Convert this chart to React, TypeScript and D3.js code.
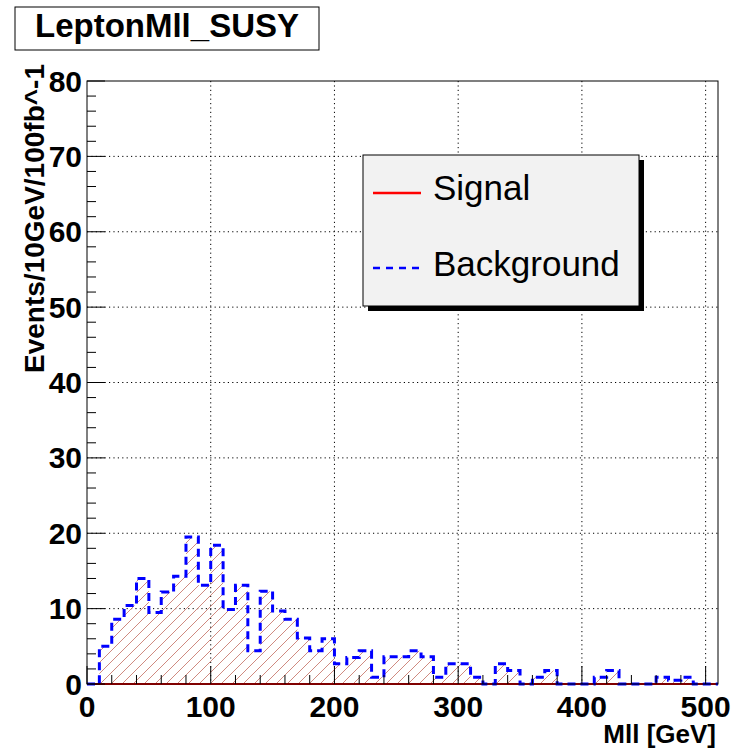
import React from "react";
import * as d3 from "d3";

// Histogram: 10 GeV bins from 0 to 510 GeV
const binWidth = 10;
const binStart = 0;
const backgroundCounts = [
  0, 5.0, 8.6, 10.4, 14.0, 9.5, 12.2, 14.3, 19.5, 13.1,
  18.4, 9.9, 13.1, 4.4, 12.3, 9.7, 8.6, 6.1, 4.4, 6.0,
  2.7, 3.5, 4.4, 0.9, 3.6, 3.6, 4.4, 3.6, 0.9, 2.7,
  2.7, 0.9, 0, 2.7, 1.8, 0, 0.9, 1.8, 0, 0,
  0, 0.9, 1.8, 0, 0, 0, 0.9, 0.5, 0.9, 0,
  0,
];
const signalCounts = backgroundCounts.map(() => 0);

const xDomain = [0, 510];
const yDomain = [0, 80];
const xMajorTicks = [0, 100, 200, 300, 400, 500];
const yMajorTicks = [0, 10, 20, 30, 40, 50, 60, 70, 80];
const xMinorStep = 20;
const yMinorStep = 2;

const titleText = "LeptonMll_SUSY";
const xTitle = "Mll [GeV]";
const yTitle = "Events/10GeV/100fb^-1";
const legendLabels = ["Signal", "Background"];

const W = 737;
const H = 749;
const FONT = "'Liberation Sans', Arial, Helvetica, sans-serif";

const frame = { left: 87, right: 718, top: 81, bottom: 684 };

export default function App() {
  const x = d3.scaleLinear().domain(xDomain).range([frame.left, frame.right]);
  const y = d3.scaleLinear().domain(yDomain).range([frame.bottom, frame.top]);

  type Pt = { e: number; v: number };
  const toSteps = (counts: number[]): Pt[] => {
    const pts = counts.map((v, i) => ({ e: binStart + i * binWidth, v }));
    pts.push({ e: binStart + counts.length * binWidth, v: counts[counts.length - 1] });
    return pts;
  };
  const bgPts = toSteps(backgroundCounts);
  const sigPts = toSteps(signalCounts);

  const stepLine = d3
    .line<Pt>()
    .x((d) => x(d.e))
    .y((d) => y(d.v))
    .curve(d3.curveStepAfter);
  const stepArea = d3
    .area<Pt>()
    .x((d) => x(d.e))
    .y0(y(0))
    .y1((d) => y(d.v))
    .curve(d3.curveStepAfter);

  // Outline closed down to the baseline at both ends
  const bgOutline =
    `M${x(bgPts[0].e)},${y(0)}` +
    (stepLine(bgPts) || "").replace(/^M/, "L") +
    `L${x(bgPts[bgPts.length - 1].e)},${y(0)}`;

  const xMinor = d3.range(xDomain[0], xDomain[1] + 0.001, xMinorStep);
  const yMinor = d3.range(yDomain[0], yDomain[1] + 0.001, yMinorStep);

  const majorLen = 18;
  const minorLen = 9;

  // 45-degree hatch lines covering the plot, clipped to the filled area
  const hatchSpacing = 11;
  const hatchLines = d3.range(frame.left - (frame.bottom - frame.top), frame.right + 1, hatchSpacing);

  const legend = { x: 363, y: 155, w: 276, h: 151 };

  return (
    <svg width={W} height={H} style={{ display: "block", position: "absolute", left: 0, top: 0 }}>
      <defs>
        <clipPath id="bgAreaClip">
          <path d={stepArea(bgPts) || ""} />
        </clipPath>
        <clipPath id="plotClip">
          <rect x={frame.left} y={frame.top - 2} width={frame.right - frame.left} height={frame.bottom - frame.top + 4} />
        </clipPath>
      </defs>
      <rect x={0} y={0} width={W} height={H} fill="#ffffff" />

      {/* grid */}
      <g stroke="#000" strokeWidth={1} strokeDasharray="1.2 3.2">
        {xMajorTicks.filter((t) => t > xDomain[0]).map((t) => (
          <line key={"gx" + t} x1={x(t)} x2={x(t)} y1={frame.top} y2={frame.bottom} />
        ))}
        {yMajorTicks.filter((t) => t > yDomain[0] && t < yDomain[1]).map((t) => (
          <line key={"gy" + t} x1={frame.left} x2={frame.right} y1={y(t)} y2={y(t)} />
        ))}
      </g>

      <g clipPath="url(#plotClip)">
        {/* hatched fill under background */}
        <g clipPath="url(#bgAreaClip)" stroke="#c97d72" strokeWidth={0.9}>
          {hatchLines.map((h, i) => (
            <line key={"h" + i} x1={h} y1={frame.bottom} x2={h + (frame.bottom - frame.top)} y2={frame.top} />
          ))}
        </g>
        {/* signal histogram */}
        <path d={stepLine(sigPts) || ""} fill="none" stroke="#ff0000" strokeWidth={2.2} />
        {/* background histogram */}
        <path d={bgOutline} fill="none" stroke="#0000ff" strokeWidth={3} strokeDasharray="8 5" />
      </g>

      {/* ticks */}
      <g stroke="#000" strokeWidth={1}>
        {xMinor.map((t) => {
          const major = xMajorTicks.includes(t);
          return (
            <line key={"tx" + t} x1={x(t)} x2={x(t)} y1={frame.bottom} y2={frame.bottom - (major ? majorLen : minorLen)} />
          );
        })}
        {yMinor.map((t) => {
          const major = yMajorTicks.includes(t);
          return (
            <line key={"ty" + t} x1={frame.left} x2={frame.left + (major ? majorLen : minorLen)} y1={y(t)} y2={y(t)} />
          );
        })}
      </g>

      {/* frame */}
      <rect
        x={frame.left}
        y={frame.top}
        width={frame.right - frame.left}
        height={frame.bottom - frame.top}
        fill="none"
        stroke="#000"
        strokeWidth={1}
      />

      {/* tick labels */}
      <g fontFamily={FONT} fontWeight="bold" fontSize={30} fill="#000">
        {xMajorTicks.map((t) => (
          <text key={"lx" + t} x={x(t)} y={717} textAnchor="middle">
            {t}
          </text>
        ))}
        {yMajorTicks.map((t) => (
          <text key={"ly" + t} x={82} y={y(t) + 10.5} textAnchor="end">
            {t}
          </text>
        ))}
      </g>

      {/* axis titles */}
      <text x={716} y={743} textAnchor="end" fontFamily={FONT} fontWeight="bold" fontSize={26}>
        {xTitle}
      </text>
      <text
        transform={`translate(44,64) rotate(-90)`}
        textAnchor="end"
        fontFamily={FONT}
        fontWeight="bold"
        fontSize={28}
      >
        {yTitle}
      </text>

      {/* title box */}
      <rect x={15} y={7} width={304} height={43} fill="#fff" stroke="#000" strokeWidth={1} />
      <text x={167} y={37} textAnchor="middle" fontFamily={FONT} fontWeight="bold" fontSize={33}>
        {titleText}
      </text>

      {/* legend */}
      <rect x={legend.x + 5} y={legend.y + 5} width={legend.w} height={legend.h} fill="#000" />
      <rect x={legend.x} y={legend.y} width={legend.w} height={legend.h} fill="#f2f2f2" stroke="#000" strokeWidth={1} />
      <line x1={373} x2={421} y1={193} y2={193} stroke="#ff0000" strokeWidth={2.5} />
      <line x1={373} x2={421} y1={268} y2={268} stroke="#0000ff" strokeWidth={2.7} strokeDasharray="7 6" />
      <g fontFamily={FONT} fontSize={35} fill="#000">
        <text x={433} y={200}>{legendLabels[0]}</text>
        <text x={433} y={276}>{legendLabels[1]}</text>
      </g>
    </svg>
  );
}
